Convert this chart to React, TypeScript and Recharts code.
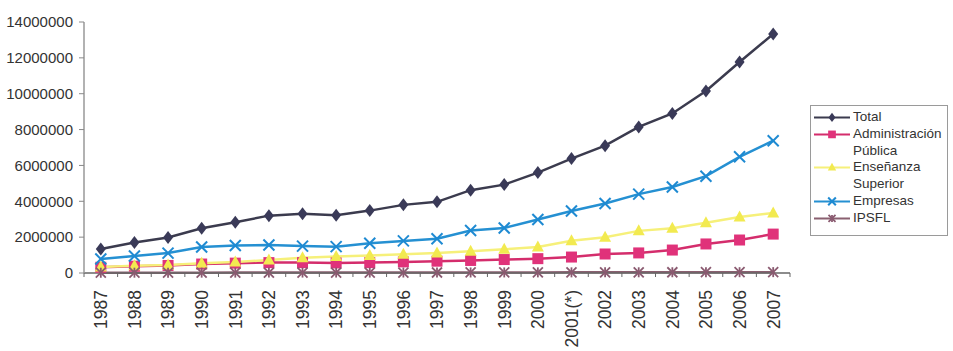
import { LineChart, Line, XAxis, YAxis, Legend } from "recharts";

const years = [
  "1987", "1988", "1989", "1990", "1991", "1992", "1993", "1994", "1995", "1996", "1997",
  "1998", "1999", "2000", "2001(*)", "2002", "2003", "2004", "2005", "2006", "2007",
];
const total = [
  1340000, 1700000, 1980000, 2500000, 2830000, 3200000, 3300000, 3220000, 3480000, 3800000, 3970000,
  4620000, 4930000, 5600000, 6380000, 7100000, 8150000, 8900000, 10150000, 11770000, 13330000,
];
const administracion = [
  320000, 380000, 420000, 500000, 550000, 580000, 580000, 560000, 580000, 620000, 660000,
  700000, 750000, 800000, 890000, 1060000, 1120000, 1280000, 1620000, 1840000, 2170000,
];
const ensenanza = [
  330000, 400000, 450000, 550000, 620000, 720000, 850000, 920000, 980000, 1050000, 1120000,
  1220000, 1320000, 1450000, 1800000, 2000000, 2350000, 2500000, 2800000, 3120000, 3350000,
];
const empresas = [
  780000, 950000, 1110000, 1450000, 1530000, 1560000, 1500000, 1470000, 1660000, 1790000, 1910000,
  2370000, 2510000, 2980000, 3460000, 3880000, 4400000, 4800000, 5400000, 6480000, 7380000,
];
const ipsfl = [
  15000, 17000, 18000, 20000, 22000, 23000, 24000, 25000, 26000, 27000, 28000,
  30000, 32000, 34000, 36000, 38000, 40000, 42000, 44000, 46000, 48000,
];
const yTicks = [0, 2000000, 4000000, 6000000, 8000000, 10000000, 12000000, 14000000];

const data = years.map((year, i) => ({
  year,
  total: total[i],
  admin: administracion[i],
  ens: ensenanza[i],
  emp: empresas[i],
  ipsfl: ipsfl[i],
}));

const FONT = '"Liberation Sans", Arial, sans-serif';
const PLOT_BOTTOM = 273;
const BAND = (790 - 84) / years.length;

type Shape = "diamond" | "square" | "triangle" | "cross" | "star";

function marker(shape: Shape, cx: number, cy: number, color: string, s = 1, key?: any) {
  if (shape === "diamond")
    return (
      <path key={key} d={`M${cx},${cy - 6.5 * s} L${cx + 5 * s},${cy} L${cx},${cy + 6.5 * s} L${cx - 5 * s},${cy} Z`} fill={color} />
    );
  if (shape === "square")
    return <rect key={key} x={cx - 5.5 * s} y={cy - 5.5 * s} width={11 * s} height={11 * s} fill={color} />;
  if (shape === "triangle")
    return (
      <path key={key} d={`M${cx},${cy - 6.5 * s} L${cx + 6 * s},${cy + 4.5 * s} L${cx - 6 * s},${cy + 4.5 * s} Z`} fill={color} />
    );
  if (shape === "cross")
    return (
      <g key={key} stroke={color} strokeWidth={2}>
        <line x1={cx - 5.5 * s} y1={cy - 5.5 * s} x2={cx + 5.5 * s} y2={cy + 5.5 * s} />
        <line x1={cx - 5.5 * s} y1={cy + 5.5 * s} x2={cx + 5.5 * s} y2={cy - 5.5 * s} />
      </g>
    );
  return (
    <g key={key} stroke={color} strokeWidth={1.8}>
      <line x1={cx - 5 * s} y1={cy - 5 * s} x2={cx + 5 * s} y2={cy + 5 * s} />
      <line x1={cx - 5 * s} y1={cy + 5 * s} x2={cx + 5 * s} y2={cy - 5 * s} />
      <line x1={cx} y1={cy - 5 * s} x2={cx} y2={cy + 5 * s} />
    </g>
  );
}

const series = [
  { key: "total", name: "Total", line: "#3b3b4e", fill: "#3a3a58", shape: "diamond" as Shape },
  { key: "admin", name: "Administración Pública", line: "#d42d6c", fill: "#e0327a", shape: "square" as Shape },
  { key: "ens", name: "Enseñanza Superior", line: "#f6f07a", fill: "#f2ea50", shape: "triangle" as Shape },
  { key: "emp", name: "Empresas", line: "#2590d2", fill: "#1e8ad2", shape: "cross" as Shape },
  { key: "ipsfl", name: "IPSFL", line: "#8a6070", fill: "#8a5a70", shape: "star" as Shape },
];

const XTick = (props: any) => {
  const { x, payload, index } = props;
  const last = index === years.length - 1;
  return (
    <g>
      <line x1={x - BAND / 2} y1={PLOT_BOTTOM} x2={x - BAND / 2} y2={PLOT_BOTTOM + 4} stroke="#666" />
      {last && <line x1={x + BAND / 2} y1={PLOT_BOTTOM} x2={x + BAND / 2} y2={PLOT_BOTTOM + 4} stroke="#666" />}
      <g transform={`translate(${x},${PLOT_BOTTOM + 17})`}>
        <text
          transform="rotate(-90)"
          x={0}
          y={0}
          dy="0.36em"
          textAnchor="end"
          fontSize={17.5}
          fontFamily={FONT}
          fill="#333"
        >
          {payload.value}
        </text>
      </g>
    </g>
  );
};

const LegendBox = () => (
  <div
    style={{
      width: 136,
      border: "1px solid #9a9a9a",
      padding: "3px 0 8px 0",
      fontFamily: FONT,
      fontSize: 13.5,
      lineHeight: "16.8px",
      color: "#333",
      background: "#fff",
    }}
  >
    {series.map((s) => (
      <div key={s.key} style={{ display: "flex", alignItems: "flex-start" }}>
        <svg width={42} height={16.8} style={{ flex: "none" }}>
          <line x1={3} y1={8.4} x2={39} y2={8.4} stroke={s.line} strokeWidth={2} />
          {marker(s.shape, 21, 8.4, s.fill, 0.7)}
        </svg>
        <span style={{ width: 92 }}>{s.name}</span>
      </div>
    ))}
  </div>
);

export default function App() {
  return (
    <div style={{ position: "absolute", left: 0, top: 0, width: 953, height: 351, background: "#fff" }}>
      <LineChart width={953} height={351} data={data} margin={{ top: 22, right: 163, left: 0, bottom: 0 }}>
        <XAxis
          dataKey="year"
          height={78}
          interval={0}
          padding={{ left: BAND / 2, right: BAND / 2 }}
          tickLine={false}
          tickSize={0}
          tickMargin={0}
          axisLine={{ stroke: "#666", strokeWidth: 1.5 }}
          tick={<XTick />}
        />
        <XAxis xAxisId="top" dataKey="year" orientation="top" height={0} tick={false} tickLine={false} axisLine={{ stroke: "#999", strokeWidth: 1.5 }} />
        <YAxis
          width={84}
          domain={[0, 14000000]}
          ticks={yTicks}
          interval={0}
          tickSize={5}
          tickMargin={6}
          tickLine={{ stroke: "#888" }}
          axisLine={{ stroke: "#999", strokeWidth: 1.5 }}
          tick={{ fontSize: 15, fontFamily: FONT, fill: "#333" }}
        />
        <YAxis yAxisId="right" orientation="right" width={0} domain={[0, 14000000]} tick={false} tickLine={false} axisLine={{ stroke: "#999", strokeWidth: 1.5 }} />
        {series.map((s) => (
          <Line
            key={s.key}
            dataKey={s.key}
            name={s.name}
            type="linear"
            stroke={s.line}
            strokeWidth={2.5}
            isAnimationActive={false}
            dot={(p: any) => marker(s.shape, p.cx, p.cy, s.fill, 1, `${s.key}-${p.index}`)}
            activeDot={false}
          />
        ))}
        <Legend
          layout="vertical"
          align="center"
          verticalAlign="middle"
          content={<LegendBox />}
          wrapperStyle={{ left: 810, top: 105, width: 138 }}
        />
      </LineChart>
    </div>
  );
}
